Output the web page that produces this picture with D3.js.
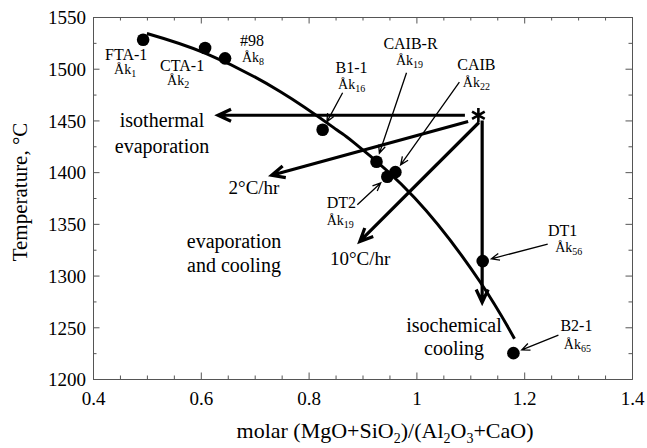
<!DOCTYPE html>
<html><head><meta charset="utf-8">
<script src="https://cdn.jsdelivr.net/npm/d3@7"></script>
<style>
body{margin:0;background:#fff}
svg{display:block}
text{font-family:"Liberation Serif","Times New Roman",serif;fill:#000}
</style>
</head><body>
<svg id="c" width="647" height="448"></svg>
<script>
// ---------- data ----------
const xTicks = [0.4, 0.6, 0.8, 1, 1.2, 1.4];
const xTickLabels = ["0.4", "0.6", "0.8", "1", "1.2", "1.4"];
const yTicks = [1200, 1250, 1300, 1350, 1400, 1450, 1500, 1550];
const yTickLabels = ["1200", "1250", "1300", "1350", "1400", "1450", "1500", "1550"];

const sampleNames = ["FTA-1", "CTA-1", "#98", "B1-1", "CAIB-R", "CAIB", "DT2", "DT1", "B2-1"];
const sampleAk    = ["1", "2", "8", "16", "19", "22", "19", "56", "65"];
const sampleX     = [0.493, 0.608, 0.645, 0.826, 0.926, 0.961, 0.946, 1.123, 1.180];
const sampleT     = [1528, 1520, 1510, 1441, 1410, 1400, 1395.5, 1314, 1225];

const curveX = [0.500, 0.608, 0.747, 0.852, 0.883, 0.997, 1.118, 1.182];
const curveT = [1534, 1515, 1478, 1441, 1429, 1375, 1294, 1239];

const startX = 1.115, startT = 1455;
const pathNames  = ["isothermal", "2°C/hr", "10°C/hr", "isochemical"];
const pathFromX  = [1.090, 1.096, 1.116, 1.122];
const pathFromT  = [1455, 1449, 1448, 1450];
const pathToX    = [0.632, 0.7315, 0.895, 1.122];
const pathToT    = [1455, 1397, 1333, 1274];

// ---------- layout (pixel offsets for annotations) ----------
const F = '"Liberation Serif","Times New Roman",serif';
const sampleLayout = [
  {nx: -17, ny: 20, ax: -18, ay: 34},   // FTA-1
  {nx: -23, ny: 23, ax: -27, ay: 37},   // CTA-1
  {nx: 27, ny: -12, ax: 28, ay: 4},     // #98
  {nx: 29, ny: -57, ax: 29, ay: -41, cx: 20, cy: -37},   // B1-1
  {nx: 34, ny: -113, ax: 33, ay: -97, cx: 30, cy: -89},  // CAIB-R
  {nx: 81, ny: -102, ax: 81, ay: -85, cx: 64, cy: -90},  // CAIB
  {nx: -46, ny: 31, ax: -47, ay: 48, cx: -30, cy: 28},   // DT2
  {nx: 80, ny: -25, ax: 86, ay: -9, cx: 65, cy: -17},    // DT1
  {nx: 63, ny: -22, ax: 64, ay: -4, cx: 45, cy: -18}     // B2-1
];

// ---------- scales ----------
const svg = d3.select("#c");
const x = d3.scaleLinear().domain([0.4, 1.4]).range([93, 632]);
const y = d3.scaleLinear().domain([1200, 1550]).range([379, 17]);
const axisColor = "#555";

function styleAxis(g){
  g.select(".domain").attr("stroke", axisColor).attr("stroke-width", 1);
  g.selectAll(".tick line").attr("stroke", axisColor).attr("stroke-width", 1);
}
const xMinor = d3.range(0.45, 1.4, 0.05).filter(v => Math.abs(v*5 - Math.round(v*5)) > 1e-6);
const yMinor = d3.range(1225, 1550, 50);

// bottom
const gxb = svg.append("g").attr("transform", `translate(0,${y(1200)})`)
  .call(d3.axisBottom(x).tickValues(xTicks).tickSize(-6.5).tickFormat((d,i)=>xTickLabels[i]));
styleAxis(gxb);
gxb.selectAll("text").attr("y", 26).attr("dy", 0).style("font-size", "19px").style("font-family", F);
const gxbm = svg.append("g").attr("transform", `translate(0,${y(1200)})`)
  .call(d3.axisBottom(x).tickValues(xMinor).tickSize(-3.5).tickFormat(""));
styleAxis(gxbm); gxbm.select(".domain").remove();
// top
const gxt = svg.append("g").attr("transform", `translate(0,${y(1550)})`)
  .call(d3.axisTop(x).tickValues(xTicks).tickSize(-6.5).tickFormat(""));
styleAxis(gxt);
const gxtm = svg.append("g").attr("transform", `translate(0,${y(1550)})`)
  .call(d3.axisTop(x).tickValues(xMinor).tickSize(-3.5).tickFormat(""));
styleAxis(gxtm); gxtm.select(".domain").remove();
// left
const gyl = svg.append("g").attr("transform", `translate(${x(0.4)},0)`)
  .call(d3.axisLeft(y).tickValues(yTicks).tickSize(-6.5).tickFormat((d,i)=>yTickLabels[i]));
styleAxis(gyl);
gyl.selectAll("text").attr("x", -7).attr("dy", "0.36em").style("font-size", "19px").style("font-family", F);
const gylm = svg.append("g").attr("transform", `translate(${x(0.4)},0)`)
  .call(d3.axisLeft(y).tickValues(yMinor).tickSize(-3.5).tickFormat(""));
styleAxis(gylm); gylm.select(".domain").remove();
// right
const gyr = svg.append("g").attr("transform", `translate(${x(1.4)},0)`)
  .call(d3.axisRight(y).tickValues(yTicks).tickSize(-6.5).tickFormat(""));
styleAxis(gyr);
const gyrm = svg.append("g").attr("transform", `translate(${x(1.4)},0)`)
  .call(d3.axisRight(y).tickValues(yMinor).tickSize(-3.5).tickFormat(""));
styleAxis(gyrm); gyrm.select(".domain").remove();

// axis titles
const xt = svg.append("text").attr("x", 385).attr("y", 438).attr("text-anchor", "middle")
  .style("font-size", "22px");
xt.append("tspan").text("molar (MgO+SiO");
xt.append("tspan").text("2").attr("dy", 5).style("font-size", "14px");
xt.append("tspan").text(")/(Al").attr("dy", -5);
xt.append("tspan").text("2").attr("dy", 5).style("font-size", "14px");
xt.append("tspan").text("O").attr("dy", -5);
xt.append("tspan").text("3").attr("dy", 5).style("font-size", "14px");
xt.append("tspan").text("+CaO)").attr("dy", -5);

svg.append("text").attr("transform", "translate(27,192) rotate(-90)")
  .attr("text-anchor", "middle").style("font-size", "21px").text("Temperature, °C");

// ---------- curve ----------
const pts = curveX.map((v,i)=>[x(v), y(curveT[i])]);
svg.append("path").attr("d", d3.line().curve(d3.curveNatural)(pts))
  .attr("fill", "none").attr("stroke", "#000").attr("stroke-width", 3);

// ---------- arrows ----------
function arrow(p0, p1, L, hw, sw){
  const dx = p1[0]-p0[0], dy = p1[1]-p0[1], len = Math.hypot(dx,dy);
  const ux = dx/len, uy = dy/len, nx = -uy, ny = ux;
  const bx = p1[0]-ux*L, by = p1[1]-uy*L;
  const d = `M${p0[0]},${p0[1]}L${p1[0]},${p1[1]}M${bx+nx*hw},${by+ny*hw}L${p1[0]},${p1[1]}L${bx-nx*hw},${by-ny*hw}`;
  svg.append("path").attr("d", d).attr("fill", "none").attr("stroke", "#000")
    .attr("stroke-width", sw).attr("stroke-linejoin", "miter").attr("stroke-linecap", "butt");
}
pathNames.forEach((n,i)=>{
  arrow([x(pathFromX[i]), y(pathFromT[i])], [x(pathToX[i]), y(pathToT[i])], 13, 6, 3.2);
});

// star (starting composition)
svg.append("path").attr("transform", `translate(${x(startX)},${y(startT)})`)
  .attr("d", d3.symbol().type(d3.symbolAsterisk).size(150)())
  .attr("fill", "none").attr("stroke", "#000").attr("stroke-width", 2.6);

// path labels
function multiLabel(lines, cx, by, fs, lh, anchor){
  const t = svg.append("text").attr("text-anchor", anchor || "middle").style("font-size", fs+"px");
  lines.forEach((s,i)=> t.append("tspan").attr("x", cx).attr("y", by + i*lh).text(s));
}
multiLabel(["isothermal", "evaporation"], 162, 127, 20, 26);
multiLabel([pathNames[1]], 254, 194, 19, 0);
multiLabel([pathNames[2]], 330, 265, 19, 0, "start");
multiLabel(["isochemical", "cooling"], 454, 332, 20, 23);
multiLabel(["evaporation", "and cooling"], 234, 248, 20, 24);

// ---------- samples ----------
sampleNames.forEach((name,i)=>{
  const px = x(sampleX[i]), py = y(sampleT[i]), L = sampleLayout[i];
  if (L.cx !== undefined){
    const dl = Math.hypot(L.cx, L.cy);
    const tx = px + (L.cx/dl)*9, ty = py + (L.cy/dl)*9;
    arrow([px+L.cx, py+L.cy], [tx, ty], 8, 3.5, 1.3);
  }
  svg.append("circle").attr("cx", px).attr("cy", py).attr("r", 6.3).attr("fill", "#000");
  svg.append("text").attr("x", px+L.nx).attr("y", py+L.ny).attr("text-anchor", "middle")
    .style("font-size", "16px").text(name);
  const t = svg.append("text").attr("x", px+L.ax).attr("y", py+L.ay).attr("text-anchor", "middle")
    .style("font-size", "14px");
  t.append("tspan").text("Åk");
  t.append("tspan").text(sampleAk[i]).attr("dy", 3).style("font-size", "10px");
});
</script>
</body></html>
